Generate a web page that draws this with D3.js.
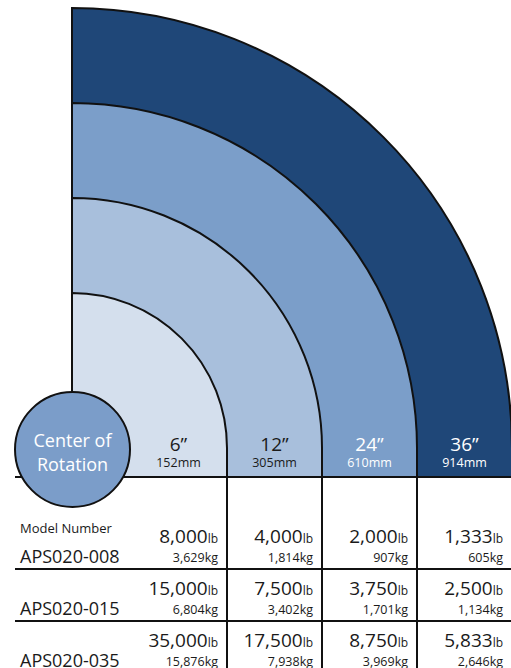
<!DOCTYPE html>
<html><head><meta charset="utf-8">
<script src="https://cdn.jsdelivr.net/npm/d3@7"></script>
<style>body{margin:0;background:#fff}svg{display:block}text{font-family:"Open Sans",sans-serif}</style>
</head><body>
<script>
const sizesIn = ["6”","12”","24”","36”"];
const sizesMm = ["152mm","305mm","610mm","914mm"];
const ringColors = ["#d4dfed","#a8bfdc","#7b9ec9","#1f4778"];
const textColors = ["#1a1a1a","#1a1a1a","#ffffff","#ffffff"];
const models = ["APS020-008","APS020-015","APS020-035"];
const loadLb = [["8,000","4,000","2,000","1,333"],["15,000","7,500","3,750","2,500"],["35,000","17,500","8,750","5,833"]];
const loadKg = [["3,629","1,814","907","605"],["6,804","3,402","1,701","1,134"],["15,876","7,938","3,969","2,646"]];

const W=511,H=668;
const svg=d3.select("body").append("svg").attr("width",W).attr("height",H);
const cx=72, cy=448, base=477;
const r=d3.scaleLinear().domain([0,3]).range([155,440]);
const idx=d3.range(sizesIn.length);

// rings, largest first
svg.selectAll("path.ring").data(idx.slice().reverse()).join("path")
  .attr("d",i=>{const R=r(i);const p=d3.path();p.moveTo(cx,cy-R);
    p.arc(cx,cy,R,-Math.PI/2,0);p.lineTo(cx+R,base);p.lineTo(cx,base);p.closePath();return p.toString();})
  .attr("fill",i=>ringColors[i]).attr("stroke","#111").attr("stroke-width",2);

// table lines
const rowTop=i=>base+40+52*i;
svg.append("line").attr("x1",15).attr("x2",W).attr("y1",base).attr("y2",base).attr("stroke","#111").attr("stroke-width",2);
[1,2].forEach(i=>svg.append("line").attr("x1",15).attr("x2",W).attr("y1",rowTop(i)).attr("y2",rowTop(i)).attr("stroke","#111").attr("stroke-width",2));
idx.slice(0,3).forEach(i=>svg.append("line").attr("x1",cx+r(i)).attr("x2",cx+r(i)).attr("y1",cy).attr("y2",H).attr("stroke","#111").attr("stroke-width",2));

// center circle
svg.append("circle").attr("cx",72.5).attr("cy",449.5).attr("r",57.5).attr("fill","#7b9dc9").attr("stroke","#111").attr("stroke-width",2);
svg.append("text").attr("x",72.5).attr("y",447).attr("text-anchor","middle").attr("font-size",18).attr("fill","#fff").text("Center of");
svg.append("text").attr("x",72.5).attr("y",471).attr("text-anchor","middle").attr("font-size",18).attr("fill","#fff").text("Rotation");

// size labels
const colLeft=i=>i===0?130:cx+r(i-1);
const colMid=i=>(colLeft(i)+cx+r(i))/2;
idx.forEach(i=>{
  svg.append("text").attr("x",colMid(i)).attr("y",451).attr("text-anchor","middle").attr("font-size",19).attr("fill",textColors[i]).text(sizesIn[i]);
  svg.append("text").attr("x",colMid(i)).attr("y",467).attr("text-anchor","middle").attr("font-size",12.5).attr("fill",textColors[i]).text(sizesMm[i]);
});

// table
svg.append("text").attr("x",20).attr("y",533).attr("font-size",13).attr("fill","#1a1a1a").text("Model Number");
models.forEach((m,j)=>{
  const t=rowTop(j);
  svg.append("text").attr("x",20).attr("y",t+46).attr("font-size",18).attr("fill","#1a1a1a").text(m);
  idx.forEach(i=>{
    const xr=cx+r(i)-9;
    const tx=svg.append("text").attr("x",xr).attr("y",t+26).attr("text-anchor","end").attr("fill","#1a1a1a");
    tx.append("tspan").attr("font-size",19).text(loadLb[j][i]);
    tx.append("tspan").attr("font-size",12).text("lb");
    svg.append("text").attr("x",xr).attr("y",t+45).attr("text-anchor","end").attr("font-size",12.5).attr("fill","#1a1a1a").text(loadKg[j][i]+"kg");
  });
});
</script>
</body></html>
